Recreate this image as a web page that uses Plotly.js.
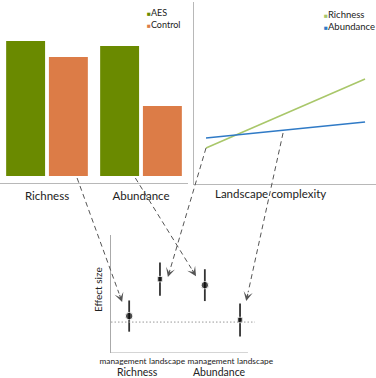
<!DOCTYPE html>
<html>
<head>
<meta charset="utf-8">
<script src="https://cdn.plot.ly/plotly-3.0.1.min.js"></script>
<style>html,body{margin:0;padding:0;background:#fff;}#chart{width:376px;height:378px;}</style>
</head>
<body>
<div id="chart"></div>
<script>
// ---- data ----
const categories = ['Richness', 'Abundance'];
const aesValues = [8.1, 7.8];
const controlValues = [7.14, 4.2];
const seriesNames = ['AES', 'Control'];

const complexity = [1, 10];
const richnessLine = [3.6, 10.5];
const abundanceLine = [4.6, 6.2];
const lineNames = ['Richness', 'Abundance'];

const effectX = [1.14, 1.84, 2.86, 3.66];
const effectY = [0.2, 1.43, 1.23, 0.07];
const effectErr = [0.52, 0.55, 0.53, 0.55];
const effectSymbols = ['circle', 'square', 'circle', 'square'];
const effectTickVals = [1, 2, 3, 4];
const effectTickText = ['management', 'landscape', 'management', 'landscape'];
const groupLabels = ['Richness', 'Abundance'];
const groupLabelX = [1.34, 3.2];

// ---- styles ----
const W = 376, H = 378;
const FONT = 'Lato, "Open Sans", sans-serif';
const TXT = '#222';
const AES_C = '#6a8a00';
const CTRL_C = '#dc7c47';
const RICH_C = '#a9c76a';
const ABUN_C = '#2f7ac6';
const AXC = '#b8b8b8';

const layout = {
  width: W, height: H,
  margin: {l: 0, r: 0, t: 0, b: 0},
  paper_bgcolor: '#fff', plot_bgcolor: 'rgba(0,0,0,0)',
  font: {family: FONT, color: TXT, size: 11},
  showlegend: false,
  barmode: 'group', bargap: 0.09, bargroupgap: 0.09,
  xaxis: {domain: [0, 188 / W], range: [-0.5, 1.5], type: 'category', showline: true, linecolor: AXC, linewidth: 1,
          showgrid: false, zeroline: false, ticks: '', tickfont: {size: 11.5, color: TXT}, ticklabelstandoff: 2, fixedrange: true},
  yaxis: {domain: [1 - 183 / H, 1], range: [-0.42, 10.56], showline: true, linecolor: AXC, linewidth: 1,
          showgrid: false, zeroline: false, showticklabels: false, ticks: ''},
  xaxis2: {domain: [194 / W, 1], range: [0.32, 10.62], anchor: 'y2', showline: true, linecolor: AXC, linewidth: 1,
           showgrid: false, zeroline: false, showticklabels: false, ticks: ''},
  yaxis2: {domain: [1 - 184 / H, 1 - 2 / H], range: [0, 18.2], anchor: 'x2', showline: true, linecolor: AXC, linewidth: 1,
           showgrid: false, zeroline: false, showticklabels: false, ticks: ''},
  xaxis3: {domain: [111 / W, 266 / W], range: [0.727, 4.25], anchor: 'y3', showline: false,
           showgrid: false, zeroline: false, ticks: '', tickvals: effectTickVals, ticktext: effectTickText,
           tickangle: 0, tickfont: {size: 8.3, color: TXT}, ticklabelstandoff: 2},
  yaxis3: {domain: [1 - 353 / H, 1 - 235 / H], range: [-1.03, 2.9], anchor: 'x3', showline: true, linecolor: '#aaa', linewidth: 1,
           showgrid: false, zeroline: false, showticklabels: false, ticks: ''},
  shapes: [], annotations: []
};

// convert axis data value to paper fraction
function frac(axName, v) {
  const a = layout[axName];
  const f = (v - a.range[0]) / (a.range[1] - a.range[0]);
  return a.domain[0] + f * (a.domain[1] - a.domain[0]);
}

// panel 3 axis line and zero reference line
layout.shapes.push({type: 'line', xref: 'x3', yref: 'y3', x0: 0.727, x1: 3.84, y0: -1.03, y1: -1.03,
  line: {color: '#aaa', width: 1}});
layout.shapes.push({type: 'line', xref: 'x3', yref: 'y3', x0: 0.727, x1: 4.0, y0: 0, y1: 0,
  line: {color: '#999', width: 1, dash: '1.5px,2px'}});

// legends (as annotations)
const sq = (c) => `<span style="color:${c};font-size:6.5px">■</span>`;
layout.annotations.push({xref: 'paper', yref: 'paper', x: 145 / W, y: 1 - 18 / H, xanchor: 'left', yanchor: 'middle',
  align: 'left', showarrow: false, font: {size: 9, color: TXT},
  text: `${sq(AES_C)}${seriesNames[0]}<br>${sq(CTRL_C)}${seriesNames[1]}`});
layout.annotations.push({xref: 'paper', yref: 'paper', x: 322 / W, y: 1 - 20 / H, xanchor: 'left', yanchor: 'middle',
  align: 'left', showarrow: false, font: {size: 9.5, color: TXT},
  text: `${sq(RICH_C)}${lineNames[0]}<br>${sq(ABUN_C)}${lineNames[1]}`});

// axis title panel 2
layout.annotations.push({xref: 'paper', yref: 'paper', x: 270 / W, y: 1 - 193 / H, xanchor: 'center', yanchor: 'middle',
  showarrow: false, text: 'Landscape complexity', font: {size: 11.5, color: TXT}});
// y title panel 3
layout.annotations.push({xref: 'paper', yref: 'paper', x: 98 / W, y: 1 - 290 / H, xanchor: 'center', yanchor: 'middle',
  textangle: -90, showarrow: false, text: 'Effect size', font: {size: 10, color: TXT}});
// group labels panel 3
groupLabels.forEach((g, i) => {
  layout.annotations.push({xref: 'x3', yref: 'paper', x: groupLabelX[i], y: 1 - 372 / H, xanchor: 'center', yanchor: 'middle',
    showarrow: false, text: g, font: {size: 10.5, color: TXT}});
});

// dashed connector arrows: from (axes, value) to (axes, value)
const arrows = [
  {from: ['xaxis', 'yaxis', 0.32, -0.12], to: ['xaxis3', 'yaxis3', 0.98, 0.67]},
  {from: ['xaxis', 'yaxis', 0.94, -0.12], to: ['xaxis3', 'yaxis3', 2.66, 1.53]},
  {from: ['xaxis2', 'yaxis2', 1, 3.6], to: ['xaxis3', 'yaxis3', 2.02, 1.5]},
  {from: ['xaxis2', 'yaxis2', 5.36, 5.1], to: ['xaxis3', 'yaxis3', 3.8, 0.7]}
];
arrows.forEach(a => {
  const x0 = frac(a.from[0], a.from[2]), y0 = frac(a.from[1], a.from[3]);
  const x1 = frac(a.to[0], a.to[2]), y1 = frac(a.to[1], a.to[3]);
  const dx = (x1 - x0) * W, dy = -(y1 - y0) * H;
  const len = Math.hypot(dx, dy);
  const ux = dx / len, uy = dy / len;
  const tail = 9;
  layout.shapes.push({type: 'line', xref: 'paper', yref: 'paper', x0: x0, y0: y0,
    x1: x1 - ux * tail / W, y1: y1 + uy * tail / H,
    line: {color: '#555', width: 1, dash: '5px,3.5px'}});
  layout.annotations.push({xref: 'paper', yref: 'paper', x: x1, y: y1, text: '', showarrow: true,
    ax: -ux * tail, ay: -uy * tail, arrowhead: 3, arrowsize: 1.4, arrowwidth: 1.1, arrowcolor: '#555', standoff: 0});
});

const traces = [
  {type: 'bar', name: seriesNames[0], x: categories, y: aesValues, xaxis: 'x', yaxis: 'y',
   marker: {color: AES_C, line: {width: 0}}, hoverinfo: 'skip'},
  {type: 'bar', name: seriesNames[1], x: categories, y: controlValues, xaxis: 'x', yaxis: 'y',
   marker: {color: CTRL_C, line: {width: 0}}, hoverinfo: 'skip'},
  {type: 'scatter', mode: 'lines', name: lineNames[0], x: complexity, y: richnessLine, xaxis: 'x2', yaxis: 'y2',
   line: {color: RICH_C, width: 1.6}, hoverinfo: 'skip'},
  {type: 'scatter', mode: 'lines', name: lineNames[1], x: complexity, y: abundanceLine, xaxis: 'x2', yaxis: 'y2',
   line: {color: ABUN_C, width: 1.6}, hoverinfo: 'skip'},
  {type: 'scatter', mode: 'markers', x: effectX, y: effectY, xaxis: 'x3', yaxis: 'y3',
   marker: {color: '#000', symbol: effectSymbols, size: effectSymbols.map(s => s === 'circle' ? 7.5 : 5.5)},
   error_y: {type: 'data', array: effectErr, visible: true, color: '#333', thickness: 1.8, width: 0},
   hoverinfo: 'skip'}
];

Plotly.newPlot('chart', traces, layout, {staticPlot: true, displayModeBar: false});
</script>
</body>
</html>
